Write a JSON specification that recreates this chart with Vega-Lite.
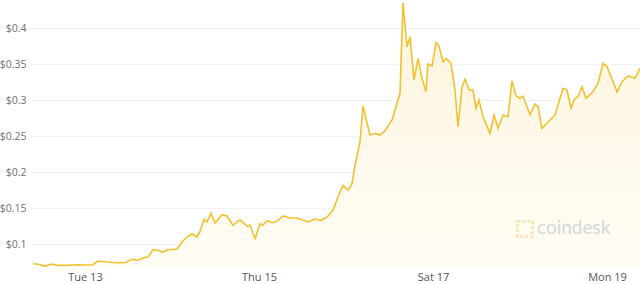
{
  "$schema": "https://vega.github.io/schema/vega-lite/v6.json",
  "width": 610,
  "height": 268,
  "autosize": {"type": "none"},
  "padding": {"left": 30, "top": 0, "right": 0, "bottom": 16},
  "background": "white",
  "config": {"view": {"stroke": null}, "font": "Open Sans"},
  "datasets": {
    "prices": [
      {"time": "2021-04-12T09:40Z", "price": 0.0726},
      {"time": "2021-04-12T11:02Z", "price": 0.0718},
      {"time": "2021-04-12T12:58Z", "price": 0.0694},
      {"time": "2021-04-12T14:54Z", "price": 0.0722},
      {"time": "2021-04-12T16:33Z", "price": 0.0704},
      {"time": "2021-04-12T19:02Z", "price": 0.0704},
      {"time": "2021-04-12T21:47Z", "price": 0.0713},
      {"time": "2021-04-13T00:33Z", "price": 0.0708},
      {"time": "2021-04-13T02:13Z", "price": 0.0713},
      {"time": "2021-04-13T03:35Z", "price": 0.0764},
      {"time": "2021-04-13T06:04Z", "price": 0.0750},
      {"time": "2021-04-13T08:50Z", "price": 0.0740},
      {"time": "2021-04-13T11:02Z", "price": 0.0740},
      {"time": "2021-04-13T12:58Z", "price": 0.0788},
      {"time": "2021-04-13T14:37Z", "price": 0.0774},
      {"time": "2021-04-13T16:33Z", "price": 0.0815},
      {"time": "2021-04-13T17:23Z", "price": 0.0819},
      {"time": "2021-04-13T18:46Z", "price": 0.0921},
      {"time": "2021-04-13T20:08Z", "price": 0.0913},
      {"time": "2021-04-13T21:31Z", "price": 0.0889},
      {"time": "2021-04-13T22:54Z", "price": 0.0921},
      {"time": "2021-04-14T01:23Z", "price": 0.0931},
      {"time": "2021-04-14T02:46Z", "price": 0.1028},
      {"time": "2021-04-14T04:08Z", "price": 0.1097},
      {"time": "2021-04-14T05:31Z", "price": 0.1143},
      {"time": "2021-04-14T06:54Z", "price": 0.1097},
      {"time": "2021-04-14T07:43Z", "price": 0.1176},
      {"time": "2021-04-14T08:50Z", "price": 0.1343},
      {"time": "2021-04-14T09:39Z", "price": 0.1306},
      {"time": "2021-04-14T10:46Z", "price": 0.1426},
      {"time": "2021-04-14T11:52Z", "price": 0.1292},
      {"time": "2021-04-14T13:47Z", "price": 0.1407},
      {"time": "2021-04-14T15:10Z", "price": 0.1389},
      {"time": "2021-04-14T16:50Z", "price": 0.1260},
      {"time": "2021-04-14T18:12Z", "price": 0.1319},
      {"time": "2021-04-14T19:02Z", "price": 0.1329},
      {"time": "2021-04-14T20:41Z", "price": 0.1250},
      {"time": "2021-04-14T21:31Z", "price": 0.1260},
      {"time": "2021-04-14T22:54Z", "price": 0.1074},
      {"time": "2021-04-15T00:17Z", "price": 0.1282},
      {"time": "2021-04-15T01:06Z", "price": 0.1264},
      {"time": "2021-04-15T02:12Z", "price": 0.1324},
      {"time": "2021-04-15T03:35Z", "price": 0.1296},
      {"time": "2021-04-15T04:58Z", "price": 0.1315},
      {"time": "2021-04-15T06:37Z", "price": 0.1389},
      {"time": "2021-04-15T08:33Z", "price": 0.1361},
      {"time": "2021-04-15T10:29Z", "price": 0.1361},
      {"time": "2021-04-15T12:08Z", "price": 0.1329},
      {"time": "2021-04-15T13:31Z", "price": 0.1306},
      {"time": "2021-04-15T15:27Z", "price": 0.1351},
      {"time": "2021-04-15T16:50Z", "price": 0.1326},
      {"time": "2021-04-15T18:46Z", "price": 0.1375},
      {"time": "2021-04-15T20:25Z", "price": 0.1468},
      {"time": "2021-04-15T21:47Z", "price": 0.1653},
      {"time": "2021-04-15T23:10Z", "price": 0.1815},
      {"time": "2021-04-16T00:33Z", "price": 0.1746},
      {"time": "2021-04-16T01:39Z", "price": 0.1838},
      {"time": "2021-04-16T02:29Z", "price": 0.2093},
      {"time": "2021-04-16T03:52Z", "price": 0.2417},
      {"time": "2021-04-16T04:41Z", "price": 0.2917},
      {"time": "2021-04-16T06:37Z", "price": 0.2514},
      {"time": "2021-04-16T08:00Z", "price": 0.2538},
      {"time": "2021-04-16T09:23Z", "price": 0.2514},
      {"time": "2021-04-16T10:46Z", "price": 0.2574},
      {"time": "2021-04-16T12:41Z", "price": 0.2722},
      {"time": "2021-04-16T13:31Z", "price": 0.2861},
      {"time": "2021-04-16T14:54Z", "price": 0.3093},
      {"time": "2021-04-16T15:43Z", "price": 0.4351},
      {"time": "2021-04-16T16:50Z", "price": 0.3740},
      {"time": "2021-04-16T17:40Z", "price": 0.3879},
      {"time": "2021-04-16T18:46Z", "price": 0.3278},
      {"time": "2021-04-16T19:52Z", "price": 0.3579},
      {"time": "2021-04-16T20:58Z", "price": 0.3301},
      {"time": "2021-04-16T22:04Z", "price": 0.3115},
      {"time": "2021-04-16T22:37Z", "price": 0.3500},
      {"time": "2021-04-16T23:43Z", "price": 0.3472},
      {"time": "2021-04-17T00:50Z", "price": 0.3796},
      {"time": "2021-04-17T01:39Z", "price": 0.3750},
      {"time": "2021-04-17T02:46Z", "price": 0.3532},
      {"time": "2021-04-17T03:35Z", "price": 0.3579},
      {"time": "2021-04-17T04:58Z", "price": 0.3510},
      {"time": "2021-04-17T06:04Z", "price": 0.3139},
      {"time": "2021-04-17T06:54Z", "price": 0.2629},
      {"time": "2021-04-17T08:00Z", "price": 0.3176},
      {"time": "2021-04-17T08:50Z", "price": 0.3288},
      {"time": "2021-04-17T09:56Z", "price": 0.3139},
      {"time": "2021-04-17T11:02Z", "price": 0.3139},
      {"time": "2021-04-17T11:52Z", "price": 0.2885},
      {"time": "2021-04-17T12:41Z", "price": 0.3000},
      {"time": "2021-04-17T13:47Z", "price": 0.2768},
      {"time": "2021-04-17T15:43Z", "price": 0.2538},
      {"time": "2021-04-17T16:50Z", "price": 0.2792},
      {"time": "2021-04-17T17:56Z", "price": 0.2607},
      {"time": "2021-04-17T19:19Z", "price": 0.2792},
      {"time": "2021-04-17T20:41Z", "price": 0.2768},
      {"time": "2021-04-17T21:47Z", "price": 0.3264},
      {"time": "2021-04-17T22:54Z", "price": 0.3056},
      {"time": "2021-04-18T00:00Z", "price": 0.3024},
      {"time": "2021-04-18T00:50Z", "price": 0.3056},
      {"time": "2021-04-18T02:46Z", "price": 0.2792},
      {"time": "2021-04-18T04:08Z", "price": 0.2944},
      {"time": "2021-04-18T04:58Z", "price": 0.2907},
      {"time": "2021-04-18T06:04Z", "price": 0.2607},
      {"time": "2021-04-18T08:17Z", "price": 0.2722},
      {"time": "2021-04-18T09:39Z", "price": 0.2792},
      {"time": "2021-04-18T11:52Z", "price": 0.3163},
      {"time": "2021-04-18T12:58Z", "price": 0.3139},
      {"time": "2021-04-18T14:04Z", "price": 0.2885},
      {"time": "2021-04-18T15:10Z", "price": 0.3024},
      {"time": "2021-04-18T16:00Z", "price": 0.3046},
      {"time": "2021-04-18T17:06Z", "price": 0.3185},
      {"time": "2021-04-18T18:12Z", "price": 0.3024},
      {"time": "2021-04-18T19:52Z", "price": 0.3101},
      {"time": "2021-04-18T21:31Z", "price": 0.3232},
      {"time": "2021-04-18T22:54Z", "price": 0.3510},
      {"time": "2021-04-19T00:00Z", "price": 0.3463},
      {"time": "2021-04-19T02:46Z", "price": 0.3115},
      {"time": "2021-04-19T04:08Z", "price": 0.3254},
      {"time": "2021-04-19T05:47Z", "price": 0.3333},
      {"time": "2021-04-19T07:43Z", "price": 0.3301},
      {"time": "2021-04-19T09:06Z", "price": 0.3440}
    ],
    "brandIcon": [
      {"time": "2021-04-18T01:23Z", "price": 0.1208}
    ],
    "brandName": [
      {"time": "2021-04-18T04:41Z", "price": 0.1222, "brand": "coindesk"}
    ]
  },
  "data": {"name": "prices"},
  "encoding": {
    "x": {
      "field": "time",
      "type": "temporal",
      "scale": {
        "type": "utc",
        "domain": [
          {"year": 2021, "month": 4, "date": 12, "hours": 8, "minutes": 50, "utc": true},
          {"year": 2021, "month": 4, "date": 19, "hours": 9, "minutes": 6, "utc": true}
        ],
        "nice": false
      },
      "axis": {
        "title": null,
        "values": [
          {"year": 2021, "month": 4, "date": 13, "utc": true},
          {"year": 2021, "month": 4, "date": 15, "utc": true},
          {"year": 2021, "month": 4, "date": 17, "utc": true},
          {"year": 2021, "month": 4, "date": 19, "utc": true}
        ],
        "format": "%a %-d",
        "formatType": "utc",
        "grid": false,
        "domain": false,
        "ticks": false,
        "labelPadding": 3,
        "labelFontSize": 11,
        "labelColor": "#555555",
        "labelFont": "Open Sans"
      }
    },
    "y": {
      "field": "price",
      "type": "quantitative",
      "scale": {"domain": [0.0667, 0.4389], "nice": false, "zero": false},
      "axis": {
        "title": null,
        "values": [0.1, 0.15, 0.2, 0.25, 0.3, 0.35, 0.4],
        "labelExpr": "'$' + datum.value",
        "grid": true,
        "gridColor": "#f1f1f1",
        "gridWidth": 1,
        "domain": false,
        "ticks": false,
        "labelPadding": 4,
        "labelFontSize": 10.5,
        "labelColor": "#707070",
        "labelFont": "Open Sans"
      }
    }
  },
  "layer": [
    {
      "mark": {
        "type": "area",
        "opacity": 1,
        "clip": true,
        "color": {
          "gradient": "linear",
          "x1": 0, "y1": 0, "x2": 0, "y2": 1,
          "stops": [
            {"offset": 0, "color": "#fdf4dc"},
            {"offset": 1, "color": "#fffefa"}
          ]
        }
      }
    },
    {
      "mark": {"type": "line", "color": "#f2c12e", "strokeWidth": 1.6, "clip": true}
    },
    {
      "data": {"name": "brandIcon"},
      "mark": {
        "type": "point",
        "shape": "square",
        "filled": false,
        "size": 230,
        "stroke": "#f8e7b4",
        "strokeWidth": 3,
        "strokeDash": [3, 2],
        "opacity": 1
      }
    },
    {
      "data": {"name": "brandName"},
      "mark": {
        "type": "text",
        "align": "left",
        "baseline": "middle",
        "font": "Lato",
        "fontSize": 19,
        "color": "#d6d7dc"
      },
      "encoding": {
        "text": {"field": "brand"}
      }
    }
  ]
}
